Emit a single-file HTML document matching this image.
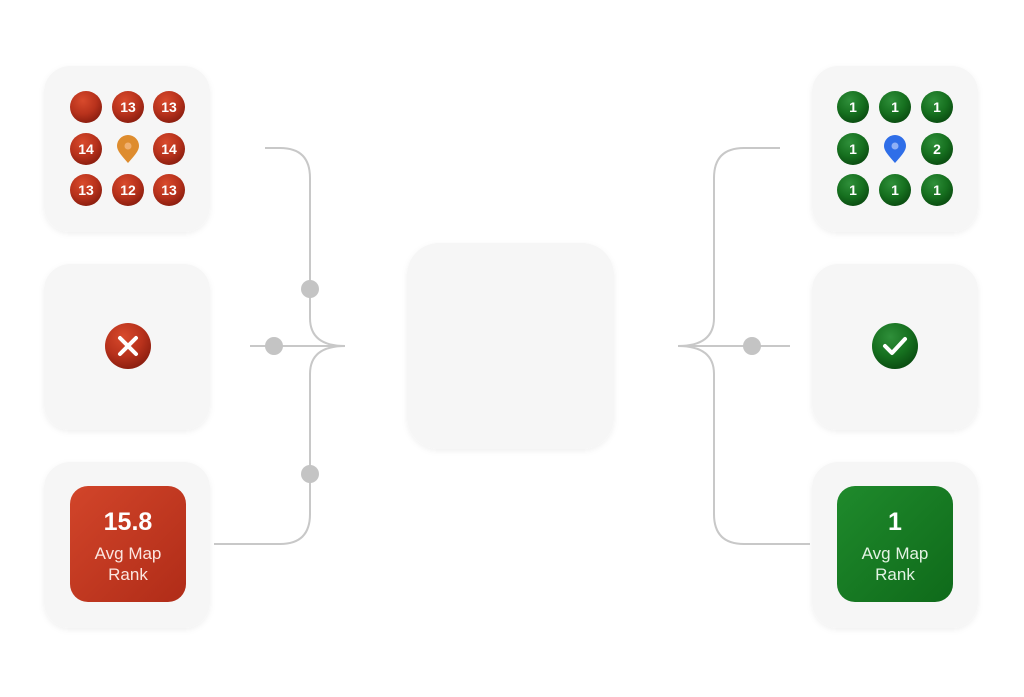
<!DOCTYPE html>
<html><head><meta charset="utf-8"><style>
html,body{margin:0;padding:0;background:#fff;}
body{width:1024px;height:692px;overflow:hidden;font-family:"Liberation Sans",sans-serif;}
</style></head><body>
<svg width="1024" height="692" viewBox="0 0 1024 692" xmlns="http://www.w3.org/2000/svg" font-family="Liberation Sans, sans-serif">
<defs>
<radialGradient id="rb" cx="40%" cy="30%" r="70%"><stop offset="0" stop-color="#d84a2c"/><stop offset="0.6" stop-color="#b8321c"/><stop offset="1" stop-color="#8e1f10"/></radialGradient>
<radialGradient id="gb" cx="40%" cy="30%" r="70%"><stop offset="0" stop-color="#2f8f3a"/><stop offset="0.6" stop-color="#16701f"/><stop offset="1" stop-color="#0b4f12"/></radialGradient>
<linearGradient id="rs" x1="0" y1="0" x2="1" y2="1"><stop offset="0" stop-color="#d2452a"/><stop offset="1" stop-color="#b02c18"/></linearGradient>
<linearGradient id="gs" x1="0" y1="0" x2="1" y2="1"><stop offset="0" stop-color="#1f8a2c"/><stop offset="1" stop-color="#0f6a1a"/></linearGradient>
<filter id="sh" x="-20%" y="-20%" width="140%" height="140%"><feDropShadow dx="0" dy="2" stdDeviation="3" flood-color="#000" flood-opacity="0.06"/></filter>
</defs>
<!-- cards -->
<g fill="#f6f6f6" filter="url(#sh)">
<rect x="44" y="66" width="166" height="166" rx="26"/>
<rect x="44" y="264" width="166" height="166" rx="26"/>
<rect x="44" y="462" width="166" height="166" rx="26"/>
<rect x="812" y="66" width="166" height="166" rx="26"/>
<rect x="812" y="264" width="166" height="166" rx="26"/>
<rect x="812" y="462" width="166" height="166" rx="26"/>
<rect x="407" y="243" width="207" height="206" rx="32"/>
</g>
<!-- connectors -->
<g fill="none" stroke="#c8c8c8" stroke-width="2">
<path d="M265 148 H280 Q310 148 310 178 V318 Q310 346 345 346"/>
<path d="M214 544 H280 Q310 544 310 514 V374 Q310 346 345 346"/>
<path d="M250 346 H345"/>
<path d="M780 148 H744 Q714 148 714 178 V318 Q714 346 678 346"/>
<path d="M810 544 H744 Q714 544 714 514 V374 Q714 346 678 346"/>
<path d="M678 346 H790"/>
</g>
<g fill="#c4c4c4">
<circle cx="310" cy="289" r="9"/><circle cx="274" cy="346" r="9"/><circle cx="310" cy="474" r="9"/>
<circle cx="752" cy="346" r="9"/>
</g>
<!-- red balls -->
<g fill="url(#rb)">
<circle cx="86" cy="107" r="16"/><circle cx="128" cy="107" r="16"/><circle cx="169" cy="107" r="16"/>
<circle cx="86" cy="149" r="16"/><circle cx="169" cy="149" r="16"/>
<circle cx="86" cy="190" r="16"/><circle cx="128" cy="190" r="16"/><circle cx="169" cy="190" r="16"/>
</g>
<g fill="#fff" font-size="14" font-weight="bold" text-anchor="middle">
<text x="128" y="112">13</text><text x="169" y="112">13</text>
<text x="86" y="154">14</text><text x="169" y="154">14</text>
<text x="86" y="195">13</text><text x="128" y="195">12</text><text x="169" y="195">13</text>
</g>
<path d="M128 163 C122 156 117 151 117 146 A11 11 0 0 1 139 146 C139 151 134 156 128 163Z" fill="#de8c2e"/>
<circle cx="128" cy="146" r="3.5" fill="#f0b070"/>
<!-- green balls -->
<g fill="url(#gb)">
<circle cx="853" cy="107" r="16"/><circle cx="895" cy="107" r="16"/><circle cx="937" cy="107" r="16"/>
<circle cx="853" cy="149" r="16"/><circle cx="937" cy="149" r="16"/>
<circle cx="853" cy="190" r="16"/><circle cx="895" cy="190" r="16"/><circle cx="937" cy="190" r="16"/>
</g>
<g fill="#fff" font-size="14" font-weight="bold" text-anchor="middle">
<text x="853" y="112">1</text><text x="895" y="112">1</text><text x="937" y="112">1</text>
<text x="853" y="154">1</text><text x="937" y="154">2</text>
<text x="853" y="195">1</text><text x="895" y="195">1</text><text x="937" y="195">1</text>
</g>
<path d="M895 163 C889 156 884 151 884 146 A11 11 0 0 1 906 146 C906 151 901 156 895 163Z" fill="#2f6ee8"/>
<circle cx="895" cy="146" r="3.5" fill="#8fb0f5"/>
<!-- x / check -->
<circle cx="128" cy="346" r="23" fill="url(#rb)"/>
<path d="M120 338 L136 354 M136 338 L120 354" stroke="#fff" stroke-width="4" stroke-linecap="round"/>
<circle cx="895" cy="346" r="23" fill="url(#gb)"/>
<path d="M885 346 L892 353 L905 339" fill="none" stroke="#fff" stroke-width="4" stroke-linecap="round" stroke-linejoin="round"/>
<!-- rank squares -->
<rect x="70" y="486" width="116" height="116" rx="18" fill="url(#rs)"/>
<text x="128" y="530" fill="#fff" font-size="25" font-weight="bold" text-anchor="middle">15.8</text>
<text x="128" y="559" fill="#fbe6e0" font-size="17" text-anchor="middle">Avg Map</text>
<text x="128" y="580" fill="#fbe6e0" font-size="17" text-anchor="middle">Rank</text>
<rect x="837" y="486" width="116" height="116" rx="18" fill="url(#gs)"/>
<text x="895" y="530" fill="#fff" font-size="25" font-weight="bold" text-anchor="middle">1</text>
<text x="895" y="559" fill="#e4f3e4" font-size="17" text-anchor="middle">Avg Map</text>
<text x="895" y="580" fill="#e4f3e4" font-size="17" text-anchor="middle">Rank</text>
</svg>
</body></html>
